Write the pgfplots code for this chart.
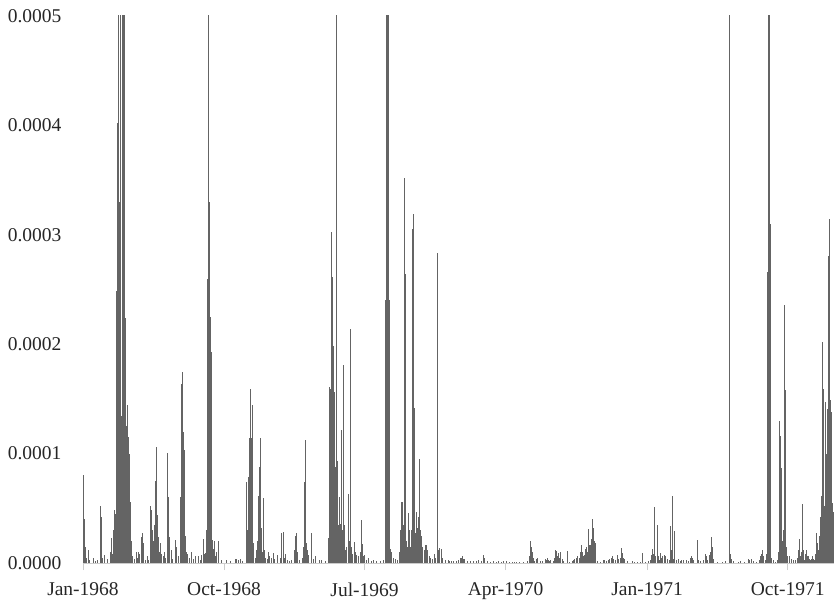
\documentclass[border=0pt]{standalone}
\usepackage{fontspec}
\setmainfont{Liberation Serif}
\usepackage{pgfplots}
\usepackage{pgfplotstable}
\pgfplotsset{compat=1.18}
\definecolor{spike}{RGB}{100,100,100}
\definecolor{axisgray}{RGB}{205,205,205}

% daily values, d = days since 1 Jan 1968, v in units of 1e-4
% (values above 5 run off the top of the chart)
\pgfplotstableread{
d v
0 0.46
1 0.80
2 0.40
3 0.20
4 0.12
5 0.15
6 0.05
7 0.03
10 0.12
13 0.03
19 0.05
23 0.02
27 0.03
34 0.52
35 0.42
36 0.32
37 0.05
41 0.06
42 0.07
47 0.04
52 0.10
54 0.23
55 0.12
57 0.08
59 0.30
60 0.22
61 0.48
62 0.28
63 0.45
64 0.85
65 2.49
66 3.67
67 4.02
68 6.00
69 2.66
70 3.30
71 0.90
72 6.00
73 2.20
74 1.34
75 0.60
76 1.00
77 6.00
78 6.00
79 6.00
80 6.00
81 3.50
82 2.24
83 1.25
84 0.60
85 1.44
86 0.85
87 0.71
88 1.15
89 0.40
90 1.00
91 0.56
92 0.38
93 0.20
94 0.12
96 0.06
99 0.04
103 0.10
105 0.05
108 0.10
110 0.08
114 0.24
115 0.27
116 0.18
117 0.05
120 0.03
124 0.06
127 0.03
131 0.52
132 0.47
133 0.48
134 0.30
135 0.15
136 0.20
138 0.35
140 0.75
141 0.40
143 1.06
144 0.44
145 0.30
147 0.24
148 0.10
150 0.18
151 0.08
155 0.06
158 0.10
160 0.05
164 1.01
165 0.39
166 0.60
167 0.24
168 0.10
171 0.12
174 0.04
179 0.21
180 0.10
182 0.15
184 0.06
188 0.30
189 0.60
190 1.64
191 1.22
192 0.80
193 1.75
194 1.20
195 0.97
196 1.03
197 0.36
198 0.25
199 0.12
201 0.10
203 0.08
206 0.05
210 0.10
214 0.04
218 0.06
224 0.06
228 0.03
230 0.07
234 0.22
235 0.08
237 0.09
240 0.30
241 2.30
242 2.60
243 6.00
244 4.27
245 3.30
246 2.44
247 2.25
248 2.20
249 1.93
250 1.83
251 0.21
252 0.13
254 0.20
256 0.06
258 0.10
262 0.20
263 0.07
268 0.03
279 0.03
285 0.02
295 0.04
298 0.04
302 0.03
305 0.04
310 0.02
317 0.18
318 0.74
319 0.30
320 0.58
321 0.79
322 0.90
323 1.14
324 1.59
325 0.44
326 1.14
327 0.35
328 0.30
329 1.44
330 0.18
331 0.10
334 0.05
337 0.12
339 0.20
340 0.61
341 0.45
342 0.88
343 0.50
344 0.30
345 1.14
346 0.32
347 0.20
348 0.10
350 0.20
351 0.59
352 0.12
353 0.05
357 0.04
360 0.10
362 0.06
365 0.05
369 0.09
372 0.04
378 0.07
383 0.05
386 0.27
388 0.28
389 0.15
391 0.05
392 0.08
396 0.03
400 0.02
405 0.03
411 0.12
413 0.25
415 0.27
416 0.10
420 0.03
425 0.05
428 0.15
429 0.56
430 0.74
431 1.12
432 0.73
433 0.18
435 0.12
438 0.07
443 0.27
444 0.10
448 0.04
452 0.06
458 0.03
463 0.03
470 0.02
476 0.10
477 0.23
478 1.61
479 0.30
480 0.60
481 1.59
482 1.05
483 3.03
484 2.54
485 2.61
486 1.98
487 1.75
488 1.56
489 0.88
490 0.35
491 0.60
492 6.00
493 0.93
494 0.35
495 0.34
496 0.35
497 0.33
498 0.60
499 0.36
501 1.22
502 0.36
503 0.30
505 1.81
506 1.32
507 0.30
508 0.35
510 0.12
512 0.15
515 0.63
516 0.51
517 0.20
519 2.14
520 1.86
521 0.15
523 0.08
527 0.19
528 0.10
531 0.07
534 0.06
538 0.10
541 0.39
542 0.17
544 0.06
547 0.07
551 0.03
554 0.05
560 0.02
564 0.03
570 0.02
577 0.02
583 0.03
587 0.10
588 2.40
589 3.86
590 6.00
591 6.00
592 6.00
593 3.86
594 2.40
595 0.20
597 0.13
599 0.10
602 0.05
606 0.04
610 0.03
615 0.10
617 0.30
618 0.56
619 0.48
620 0.56
621 0.20
622 0.35
624 3.52
625 1.90
626 2.64
627 0.20
629 0.15
631 0.46
632 0.38
633 0.30
635 0.15
637 0.30
639 1.00
640 3.05
641 3.19
642 2.78
643 1.42
644 1.12
645 0.27
647 0.47
649 0.20
650 0.32
651 0.42
652 0.24
653 0.95
654 0.58
655 0.30
657 0.25
659 0.15
662 0.12
664 0.16
667 0.16
669 0.12
672 0.06
675 0.05
678 0.04
682 0.08
685 0.05
688 2.83
690 0.12
692 0.14
695 0.13
696 0.10
698 0.05
703 0.03
709 0.03
712 0.02
716 0.02
720 0.02
725 0.02
729 0.03
732 0.05
735 0.05
736 0.06
738 0.04
741 0.04
746 0.02
752 0.02
758 0.02
764 0.02
767 0.03
773 0.02
778 0.07
779 0.05
786 0.02
791 0.01
797 0.015
802 0.01
807 0.015
812 0.01
816 0.015
823 0.015
828 0.01
833 0.01
838 0.01
842 0.01
848 0.01
855 0.01
862 0.02
867 0.06
868 0.10
869 0.20
870 0.13
871 0.15
872 0.10
874 0.05
877 0.02
880 0.04
883 0.05
888 0.02
893 0.02
897 0.04
899 0.03
901 0.05
903 0.03
906 0.02
908 0.03
913 0.02
916 0.05
917 0.10
918 0.12
919 0.11
920 0.11
921 0.06
923 0.09
925 0.05
927 0.10
928 0.06
930 0.04
933 0.02
940 0.11
941 0.03
945 0.01
950 0.02
953 0.03
955 0.04
958 0.05
961 0.06
964 0.05
966 0.10
968 0.16
969 0.10
970 0.10
972 0.06
974 0.07
976 0.13
978 0.15
979 0.10
981 0.31
982 0.12
983 0.16
984 0.14
985 0.10
986 0.16
988 0.22
989 0.40
990 0.30
991 0.15
992 0.32
993 0.20
994 0.12
995 0.18
996 0.10
998 0.02
1004 0.01
1010 0.03
1013 0.025
1017 0.02
1021 0.03
1023 0.04
1026 0.05
1029 0.065
1031 0.04
1034 0.03
1038 0.07
1040 0.04
1044 0.05
1046 0.14
1047 0.09
1049 0.05
1052 0.04
1057 0.02
1066 0.02
1070 0.01
1076 0.01
1082 0.01
1087 0.09
1093 0.01
1098 0.02
1101 0.03
1103 0.07
1106 0.13
1107 0.08
1109 0.51
1110 0.14
1112 0.06
1115 0.35
1117 0.06
1119 0.03
1121 0.09
1123 0.05
1126 0.06
1129 0.07
1130 0.04
1132 0.06
1134 0.04
1138 0.03
1141 0.34
1142 0.12
1144 0.61
1145 0.08
1147 0.04
1149 0.29
1152 0.03
1156 0.04
1160 0.02
1163 0.03
1166 0.03
1172 0.03
1176 0.02
1179 0.05
1181 0.06
1183 0.05
1186 0.03
1193 0.21
1195 0.03
1200 0.02
1204 0.03
1208 0.08
1210 0.06
1213 0.03
1216 0.07
1219 0.10
1221 0.24
1222 0.15
1223 0.10
1225 0.04
1232 0.01
1241 0.01
1247 0.015
1255 6.00
1257 0.08
1258 0.06
1260 0.04
1263 0.02
1272 0.01
1276 0.015
1284 0.01
1292 0.04
1294 0.03
1299 0.035
1302 0.02
1307 0.01
1313 0.03
1316 0.06
1318 0.08
1320 0.12
1322 0.06
1325 0.03
1328 0.08
1329 0.20
1330 2.66
1331 6.00
1332 6.00
1333 6.00
1334 6.00
1335 3.10
1336 0.20
1337 0.05
1340 0.03
1344 0.01
1348 0.03
1350 0.05
1351 0.10
1352 0.67
1353 1.30
1354 1.16
1355 0.40
1356 0.87
1357 0.30
1358 0.20
1360 0.08
1361 0.30
1362 2.36
1363 2.14
1364 1.58
1365 0.44
1366 0.15
1367 0.12
1369 0.06
1372 0.06
1375 0.04
1380 0.03
1384 0.03
1387 0.05
1389 0.12
1391 0.22
1392 0.10
1393 0.06
1395 0.10
1397 0.54
1398 0.27
1399 0.12
1401 0.03
1403 0.08
1405 0.12
1406 0.06
1408 0.06
1410 0.04
1412 0.03
1415 0.04
1417 0.06
1418 0.04
1421 0.03
1423 0.08
1425 0.27
1426 0.18
1427 0.12
1428 0.12
1430 0.25
1432 0.42
1433 0.32
1434 0.20
1435 0.61
1436 1.44
1437 2.02
1438 1.59
1439 0.52
1440 0.30
1441 1.47
1442 0.92
1443 0.52
1444 1.00
1445 1.41
1446 1.39
1447 0.61
1448 2.81
1449 3.14
1450 2.81
1451 1.49
1452 0.47
1453 1.38
1454 0.30
1455 0.55
1456 0.15
1457 0.47
1458 0.20
1459 0.10
}\spikes

\begin{document}
\begin{tikzpicture}
\begin{axis}[
  name=ax,
  scale only axis,
  width=751bp, height=547bp,
  xmin=0, xmax=1459, ymin=0, ymax=5,
  axis lines*=left,
  x axis line style={axisgray, line width=0.8bp},
  y axis line style={draw=none},
  xtick={0,274,547,821,1096,1369},
  xticklabels={Jan-1968,Oct-1968,Jul-1969,Apr-1970,Jan-1971,Oct-1971},
  ytick={0,1,2,3,4,5},
  yticklabels={0.0000,0.0001,0.0002,0.0003,0.0004,0.0005},
  tick align=outside,
  xtick style={axisgray, line width=0.8bp},
  x tick label style={yshift=-9bp},
  ytick style={draw=none},
  major tick length=7bp,
  tick label style={font=\fontsize{19.5bp}{22bp}\selectfont, text=black!85},
  y tick label style={xshift=-11bp},
  clip=true,
]
\addplot[ycomb, draw=spike, line width=0.4bp, mark=none] table[x=d, y=v] {\spikes};
\end{axis}
\pgfresetboundingbox
\path[use as bounding box] ([xshift=-83bp,yshift=-40bp]ax.south west) rectangle ([yshift=16bp]ax.north east);
\end{tikzpicture}
\end{document}
